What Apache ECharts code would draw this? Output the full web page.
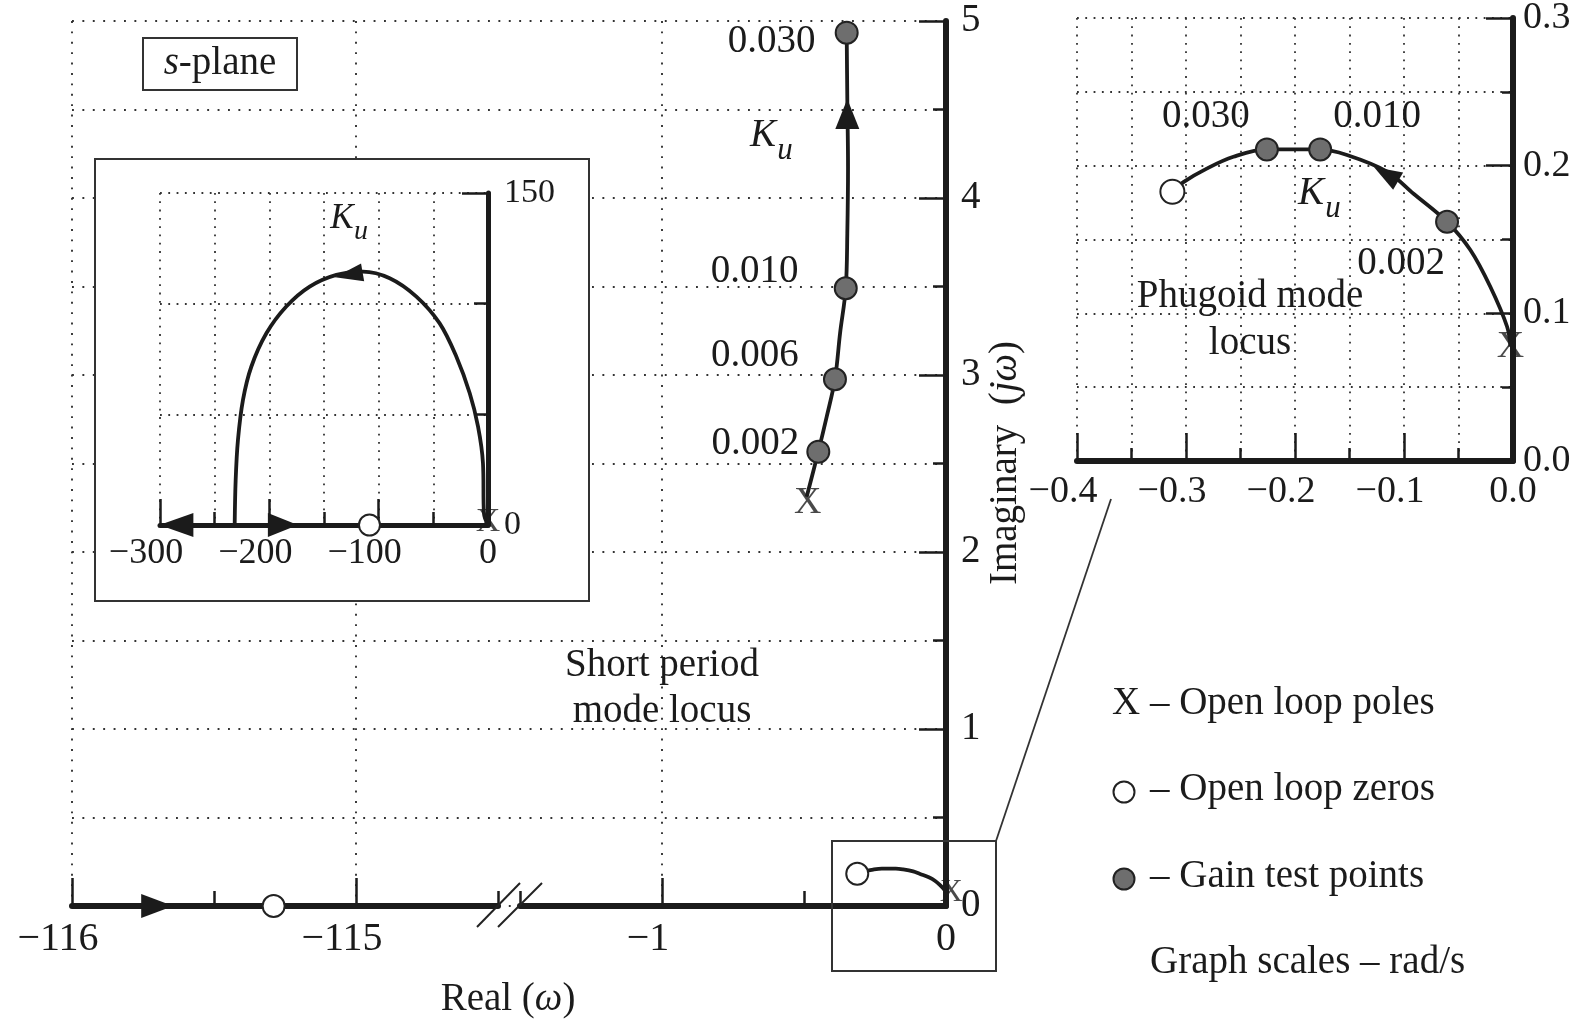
<!DOCTYPE html>
<html><head><meta charset="utf-8">
<script src="https://cdn.jsdelivr.net/npm/echarts@6/dist/echarts.min.js"></script>
<style>html,body{margin:0;padding:0;background:#fff}#c{width:1578px;height:1025px}</style>
</head><body><div id="c"></div>
<script>
// ================= DATA =================
// main plot tick values
const mainTicksLeft  = [-116, -115];
const mainMinorLeft  = [-115.5, -114.5];
const mainTicksRight = [-1, 0];
const mainMinorRight = [-1.5, -0.5];

// short period mode locus (real, imaginary)
const shortRe = [-0.4905, -0.4496, -0.420, -0.391, -0.373, -0.353, -0.3475, -0.345, -0.3475, -0.3497];
const shortIm = [2.312, 2.567, 2.765, 2.976, 3.236, 3.49, 3.80, 4.177, 4.554, 4.934];
const shortGainRe = [-0.4496, -0.391, -0.353, -0.3497];
const shortGainIm = [2.567, 2.976, 3.49, 4.934];
const shortGainLabel = ['0.002', '0.006', '0.010', '0.030'];
const shortPole  = [-0.4905, 2.312];
const shortArrow = [-0.3475, 4.475];

// real axis (left segment of main plot)
const leftZero  = [-115.29, 0];
const leftArrow = [-115.70, 0];

// inset: large-scale locus
const insRe = [0, -3.7, -4.6, -9.1, -16.7, -28.9, -44.2, -65.5, -89.9, -114.4, -138.7, -163.1, -184.5, -202.7, -216.5, -224.1, -228.7, -230.8, -231.7];
const insIm = [0, 5.3, 27.9, 44.4, 59.5, 76.0, 91.1, 103.2, 111.5, 114.5, 113.0, 107.7, 98.7, 86.6, 71.5, 56.5, 38.4, 20.3, 0];
const insZero = [-108.4, 0];
const insPole = [0, 0];
const insArrowLeft  = [-285, 0];
const insArrowRight = [-187.6, 0];
const insArrowPeak  = [-127.3, 113];

// phugoid mode locus
const phRe = [-0.0024, -0.0054, -0.0208, -0.0391, -0.0605, -0.0912, -0.1156, -0.1523, -0.1769, -0.2258, -0.2565, -0.281, -0.302, -0.3125];
const phIm = [0.0774, 0.0909, 0.118, 0.1429, 0.162, 0.181, 0.196, 0.2072, 0.211, 0.211, 0.206, 0.198, 0.189, 0.1823];
const phGainRe = [-0.0605, -0.1769, -0.2258];
const phGainIm = [0.162, 0.211, 0.211];
const phGainLabel = ['0.002', '0.010', '0.030'];
const phZero  = [-0.3125, 0.1823];
const phPole  = [-0.0024, 0.0774];
const phArrow = [-0.1165, 0.1943];

// ================= CHART =================
const zip = (a, b) => a.map((v, i) => [v, b[i]]);
const FONT = '"Liberation Serif", "Times New Roman", serif';
const INK = '#1b1b1b';
const DOT = { color: '#333333', width: 1.9, type: [1.9, 8.5] };
const DOT2 = { color: '#333333', width: 1.8, type: [1.8, 6.5] };

function fmtNeg(d) {
  return function (v) {
    const s = Math.abs(v).toFixed(d);
    return v < -1e-9 ? '\u2212' + s + '{sp| }' : s;
  };
}
const tickStyle = { color: INK, width: 2.5 };
const labelBase = (size, margin, dg, sp) => ({
  show: true, margin: margin, fontFamily: FONT, fontSize: size, color: INK,
  formatter: fmtNeg(dg), rich: { sp: { width: sp } }
});

const xAxes = [
  { gridIndex: 0, type: 'value', min: 0, max: 1, show: false },
  // main left segment
  { gridIndex: 1, type: 'value', min: -116, max: -114.5, interval: 0.5, position: 'bottom', z: 0,
    axisLine: { show: true, onZero: false, lineStyle: { color: INK, width: 6 } },
    axisTick: { show: true, inside: true, length: 28, customValues: mainTicksLeft, lineStyle: tickStyle },
    axisLabel: Object.assign(labelBase(40, 13, 0, 28), { customValues: mainTicksLeft }),
    splitLine: { show: true, lineStyle: DOT } },
  { gridIndex: 1, type: 'value', min: -116, max: -114.5, position: 'bottom', z: 0,
    axisLine: { show: false, onZero: false },
    axisTick: { show: true, inside: true, length: 15, customValues: mainMinorLeft, lineStyle: tickStyle },
    axisLabel: { show: false }, splitLine: { show: false } },
  // main right segment
  { gridIndex: 2, type: 'value', min: -1.5, max: 0, interval: 0.5, position: 'bottom', z: 0,
    axisLine: { show: true, onZero: false, lineStyle: { color: INK, width: 6 } },
    axisTick: { show: true, inside: true, length: 28, customValues: mainTicksRight, lineStyle: tickStyle },
    axisLabel: Object.assign(labelBase(40, 13, 0, 28), { customValues: mainTicksRight }),
    splitLine: { show: true, lineStyle: DOT } },
  { gridIndex: 2, type: 'value', min: -1.5, max: 0, position: 'bottom', z: 0,
    axisLine: { show: false, onZero: false },
    axisTick: { show: true, inside: true, length: 15, customValues: mainMinorRight, lineStyle: tickStyle },
    axisLabel: { show: false }, splitLine: { show: false } },
  // inset
  { gridIndex: 3, type: 'value', min: -300, max: 0, interval: 100, position: 'bottom', z: 2,
    axisLine: { show: true, onZero: false, lineStyle: { color: INK, width: 5 } },
    axisTick: { show: true, inside: true, length: 26, lineStyle: tickStyle },
    minorTick: { show: true, splitNumber: 2, length: 13, lineStyle: tickStyle },
    axisLabel: labelBase(36, 11, 0, 28),
    splitLine: { show: true, lineStyle: DOT2 }, minorSplitLine: { show: true, lineStyle: DOT2 } },
  // phugoid
  { gridIndex: 4, type: 'value', min: -0.4, max: 0, interval: 0.1, position: 'bottom', z: 2,
    axisLine: { show: true, onZero: false, lineStyle: { color: INK, width: 6 } },
    axisTick: { show: true, inside: true, length: 28, lineStyle: tickStyle },
    minorTick: { show: true, splitNumber: 2, length: 13, lineStyle: tickStyle },
    axisLabel: labelBase(38, 12, 1, 28),
    splitLine: { show: true, lineStyle: DOT2 }, minorSplitLine: { show: true, lineStyle: DOT2 } }
];

const yAxes = [
  { gridIndex: 0, type: 'value', min: 0, max: 5, interval: 0.5, z: 0,
    axisLine: { show: false }, axisTick: { show: false }, axisLabel: { show: false },
    splitLine: { show: true, lineStyle: DOT } },
  { gridIndex: 1, type: 'value', min: 0, max: 5, show: false },
  { gridIndex: 2, type: 'value', min: 0, max: 5, interval: 1, position: 'right', z: 0,
    axisLine: { show: true, onZero: false, lineStyle: { color: INK, width: 6 } },
    axisTick: { show: true, inside: true, length: 27, lineStyle: tickStyle },
    minorTick: { show: true, splitNumber: 2, length: 13, lineStyle: tickStyle },
    axisLabel: { show: true, margin: 15, fontFamily: FONT, fontSize: 39, color: INK },
    splitLine: { show: false } },
  { gridIndex: 3, type: 'value', min: 0, max: 150, interval: 150, position: 'right', z: 2,
    axisLine: { show: true, onZero: false, lineStyle: { color: INK, width: 5 } },
    axisTick: { show: true, inside: true, length: 26, lineStyle: tickStyle },
    minorTick: { show: true, splitNumber: 3, length: 14, lineStyle: tickStyle },
    axisLabel: { show: true, margin: 16, fontFamily: FONT, fontSize: 34, color: INK },
    splitLine: { show: true, lineStyle: DOT2 }, minorSplitLine: { show: true, lineStyle: DOT2 } },
  { gridIndex: 4, type: 'value', min: 0, max: 0.3, interval: 0.1, position: 'right', z: 2,
    axisLine: { show: true, onZero: false, lineStyle: { color: INK, width: 6 } },
    axisTick: { show: true, inside: true, length: 27, lineStyle: tickStyle },
    minorTick: { show: true, splitNumber: 2, length: 11, lineStyle: tickStyle },
    axisLabel: { show: true, margin: 10, fontFamily: FONT, fontSize: 38, color: INK,
      formatter: v => v.toFixed(1) },
    splitLine: { show: true, lineStyle: DOT2 }, minorSplitLine: { show: true, lineStyle: DOT2 } }
];

function locus(xi, yi, data, w) {
  return { type: 'line', xAxisIndex: xi, yAxisIndex: yi, data: data, smooth: 0.35,
    symbol: 'none', lineStyle: { color: INK, width: w }, z: 5, silent: true, animation: false };
}
function arrow(xi, yi, pt, rot, size) {
  return { type: 'scatter', xAxisIndex: xi, yAxisIndex: yi, data: [pt], symbol: 'triangle',
    symbolSize: size, symbolRotate: rot, itemStyle: { color: INK, opacity: 1 }, z: 6, silent: true, animation: false };
}
function zero(xi, yi, pt, size) {
  return { type: 'scatter', xAxisIndex: xi, yAxisIndex: yi, data: [pt], symbol: 'circle',
    symbolSize: size, itemStyle: { color: '#ffffff', borderColor: '#222', borderWidth: 2, opacity: 1 }, z: 7, silent: true, animation: false };
}
function pole(xi, yi, pt, fs, off) {
  return { type: 'scatter', xAxisIndex: xi, yAxisIndex: yi, data: [pt], symbol: 'circle',
    symbolSize: 0.1, itemStyle: { color: 'rgba(0,0,0,0)' }, z: 8, silent: true, animation: false,
    label: { show: true, position: 'inside', formatter: 'X', fontFamily: FONT, fontSize: fs, color: INK, offset: off } };
}
function gains(xi, yi, re, im, labels, offsets) {
  return { type: 'scatter', xAxisIndex: xi, yAxisIndex: yi, symbol: 'circle', symbolSize: 22,
    itemStyle: { color: '#6e6e6e', borderColor: '#222', borderWidth: 2, opacity: 1 }, z: 7, silent: true, animation: false,
    label: { show: true, position: 'inside', fontFamily: FONT, fontSize: 39, color: INK,
      formatter: p => labels[p.dataIndex] },
    data: re.map((v, i) => ({ value: [v, im[i]], label: { offset: offsets[i] } })) };
}

// label offsets (layout)
const shortGainOffsets = [[-63, -8], [-80, -23], [-91, -17], [-75, 9]];
const phGainOffsets = [[-46, 42], [57, -33], [-61, -33]];

const series = [
  // main left segment
  arrow(1, 1, leftArrow, -90, [24, 32]),
  zero(1, 1, leftZero, 22),
  // main right segment
  locus(3, 2, zip(shortRe, shortIm), 3.8),
  arrow(3, 2, shortArrow, 0, [24, 30]),
  gains(3, 2, shortGainRe, shortGainIm, shortGainLabel, shortGainOffsets),
  pole(3, 2, shortPole, 38, [1, 6]),
  locus(3, 2, zip(phRe, phIm), 3.8),
  zero(3, 2, phZero, 22),
  pole(3, 2, phPole, 32, [6, 0]),
  // inset
  locus(5, 3, zip(insRe, insIm), 3.8),
  arrow(5, 3, insArrowLeft, 90, [24, 34]),
  arrow(5, 3, insArrowRight, -90, [24, 30]),
  arrow(5, 3, insArrowPeak, 100, [18, 28]),
  zero(5, 3, insZero, 21),
  pole(5, 3, insPole, 34, [0, -3]),
  // phugoid
  locus(6, 4, zip(phRe, phIm), 3.8),
  arrow(6, 4, phArrow, 60, [20, 28]),
  gains(6, 4, phGainRe, phGainIm, phGainLabel, phGainOffsets),
  zero(6, 4, phZero, 24),
  pole(6, 4, phPole, 38, [0, 0])
];

function txt(x, y, text, size, opts) {
  const o = Object.assign({ align: 'center', italic: false, rot: 0, rich: null }, opts || {});
  const st = { text: text, fontFamily: FONT, fontSize: size, fill: INK,
    fontStyle: o.italic ? 'italic' : 'normal',
    align: o.align, textAlign: o.align, verticalAlign: 'middle', textVerticalAlign: 'middle' };
  if (o.rich) st.rich = o.rich;
  return { type: 'text', x: x, y: y, rotation: o.rot, style: st, z: 20, silent: true };
}
const ital = { i: { fontStyle: 'italic', fontFamily: FONT, fontSize: 39, fill: INK } };

const graphics = [
  // inset frame and s-plane box (opaque)
  { type: 'rect', shape: { x: 95, y: 159, width: 494, height: 442 },
    style: { fill: '#ffffff', stroke: '#333', lineWidth: 2 }, z: 1, silent: true },
  { type: 'rect', shape: { x: 143, y: 38, width: 154, height: 52 },
    style: { fill: '#ffffff', stroke: '#333', lineWidth: 2 }, z: 1, silent: true },
  // zoom box and leader line
  { type: 'rect', shape: { x: 832, y: 841, width: 164, height: 130 },
    style: { fill: 'none', stroke: '#333', lineWidth: 2 }, z: 15, silent: true },
  { type: 'line', shape: { x1: 996, y1: 841, x2: 1111, y2: 499 },
    style: { stroke: '#333', lineWidth: 1.8 }, z: 15, silent: true },
  // axis break marks
  { type: 'line', shape: { x1: 477, y1: 927, x2: 520, y2: 883 }, style: { stroke: '#222', lineWidth: 2 }, z: 15, silent: true },
  { type: 'line', shape: { x1: 498, y1: 927, x2: 542, y2: 883 }, style: { stroke: '#222', lineWidth: 2 }, z: 15, silent: true },
  // texts
  txt(220, 64, '{i|s}-plane', 39, { rich: ital }),
  txt(662, 666, 'Short period', 39),
  txt(662, 712, 'mode locus', 39),
  txt(1250, 297, 'Phugoid mode', 39),
  txt(1250, 344, 'locus', 39),
  txt(763, 136, 'K', 39, { italic: true }),
  txt(785, 151, 'u', 31, { italic: true }),
  txt(342, 219, 'K', 35, { italic: true }),
  txt(361, 232, 'u', 28, { italic: true }),
  txt(1311, 194, 'K', 39, { italic: true }),
  txt(1333, 209, 'u', 31, { italic: true }),
  txt(508, 1000, 'Real ({i|ω})', 39, { rich: ital }),
  txt(1006, 463, 'Imaginary  ({i|jω})', 39, { rich: ital, rot: Math.PI / 2 }),
  // legend
  txt(1112, 704, 'X \u2013 Open loop poles', 39, { align: 'left' }),
  { type: 'circle', shape: { cx: 1124, cy: 792, r: 10.5 }, style: { fill: '#fff', stroke: '#222', lineWidth: 2 }, z: 20, silent: true },
  txt(1150, 790, '\u2013 Open loop zeros', 39, { align: 'left' }),
  { type: 'circle', shape: { cx: 1124, cy: 879, r: 10.5 }, style: { fill: '#6e6e6e', stroke: '#222', lineWidth: 2 }, z: 20, silent: true },
  txt(1150, 877, '\u2013 Gain test points', 39, { align: 'left' }),
  txt(1150, 963, 'Graph scales \u2013 rad/s', 39, { align: 'left' })
];

const gridBase = { containLabel: false, outerBoundsMode: 'none', show: false };
const chart = echarts.init(document.getElementById('c'), null, { renderer: 'canvas' });
chart.setOption({
  animation: false,
  backgroundColor: '#ffffff',
  grid: [
    Object.assign({ left: 72, top: 21, width: 874, height: 885 }, gridBase),
    Object.assign({ left: 72, top: 21, width: 426, height: 885 }, gridBase),
    Object.assign({ left: 520, top: 21, width: 426, height: 885 }, gridBase),
    Object.assign({ left: 160, top: 193, width: 328, height: 332 }, gridBase),
    Object.assign({ left: 1077, top: 18, width: 436, height: 443 }, gridBase)
  ],
  xAxis: xAxes,
  yAxis: yAxes,
  series: series,
  graphic: { elements: graphics }
});
</script>
</body></html>
